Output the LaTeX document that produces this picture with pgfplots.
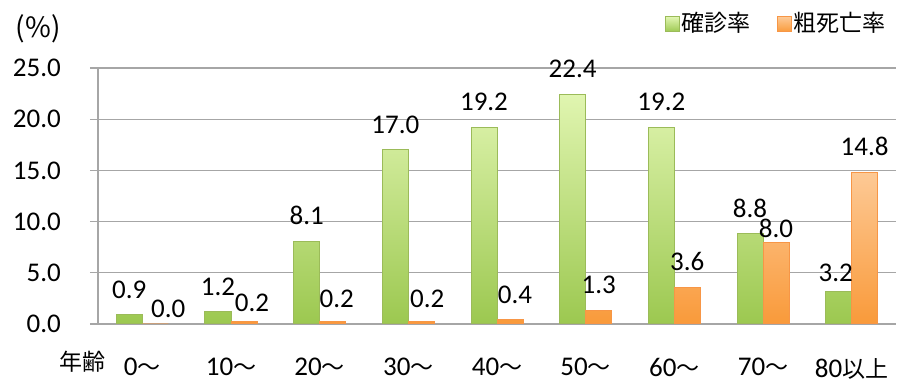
\documentclass[border=0pt]{standalone}
\usepackage{fontspec}
\setmainfont{Carlito}
\newfontfamily\jp{Noto Sans CJK JP}
\usepackage{pgfplots}
\usepackage{pgfplotstable}
\pgfplotsset{compat=1.18}
\definecolor{gtop}{HTML}{E0F5B0}
\definecolor{gbot}{HTML}{9CC850}
\definecolor{gline}{HTML}{9BBB59}
\definecolor{otop}{HTML}{FDC995}
\definecolor{obot}{HTML}{F99A3A}
\definecolor{oline}{HTML}{F79646}
\definecolor{axgrey}{HTML}{A6A6A6}
\newcommand\nf{\fontsize{27}{31}\selectfont}
\newcommand\jf{\jp\fontsize{23}{27}\selectfont}
\pgfplotstableread{
x y dx sh
0 0.9 0 16
1 1.2 0 16
2 8.1 0 16
3 17.0 0 16
4 19.2 0 16
5 22.4 0 16
6 19.2 0 16
7 8.8 0 16
8 3.2 -3 9
}\diag
\pgfplotstableread{
x y dx sh
0 0.0 13 6
1 0.2 8 10
2 0.2 4 14
3 0.2 6 14
4 0.4 5 16
5 1.3 0 16
6 3.6 0 16
7 8.0 0 4
8 14.8 0 16
}\death
\begin{document}
\nf
\begin{tikzpicture}
\begin{axis}[
  scale only axis,
  width=798pt, height=256pt,
  xmin=-0.5, xmax=8.5, ymin=0, ymax=25,
  ybar=0pt, bar width=26pt,
  axis lines*=left,
  axis line style={draw=axgrey, line width=1.2pt},
  /pgf/number format/assume math mode=true,
  ytick={0,5,...,25},
  yticklabel={\pgfmathprintnumber[fixed,fixed zerofill,precision=1]{\tick}},
  yticklabel style={font=\nf, xshift=-20pt},
  ymajorgrids,
  major grid style={draw=axgrey, line width=1.2pt},
  major tick length=8pt,
  tick align=outside,
  tick style={draw=axgrey, line width=1.2pt},
  xtick={0,...,8},
  xticklabels={{0{\jf ～}},{10{\jf ～}},{20{\jf ～}},{30{\jf ～}},{40{\jf ～}},{50{\jf ～}},{60{\jf ～}},{70{\jf ～}},{80{\jf 以上}}},
  xtick style={draw=none},
  xticklabel style={font=\nf, yshift=-17pt},
  extra x ticks={-0.5,0.5,...,8.5},
  extra x tick labels={},
  extra x tick style={tick style={draw=axgrey, line width=1.2pt}, major grid style={draw=none}},
  visualization depends on={\thisrow{dx}\as\mydx},
  visualization depends on={\thisrow{sh}\as\mysh},
  nodes near coords={\pgfmathprintnumber[fixed,fixed zerofill,precision=1]{\pgfplotspointmeta}},
  nodes near coords style={font=\nf, black, inner sep=0pt, anchor=south, xshift=\mydx pt, yshift=\mysh pt},
  legend style={at={(axis description cs:0.99,1.172)}, anchor=east, draw=none, fill=none,
    legend columns=2, font=\jf, inner sep=0pt,
    /tikz/every even column/.append style={column sep=24pt}},
  legend image code/.code={\draw[#1] (-2pt,-8pt) rectangle (12pt,7pt);},
  clip=false,
]
\addplot[draw=gline, line width=1pt, top color=gtop, bottom color=gbot] table[x=x,y=y] {\diag};
\addplot[draw=oline, line width=1pt, top color=otop, bottom color=obot] table[x=x,y=y] {\death};
\legend{確診率,粗死亡率}
\node[font=\jp\fontsize{28}{32}\selectfont] at (axis description cs:-0.075,1.152) {(\%)};
\node[font=\jf] at (axis description cs:-0.02,-0.148) {年齢};
\end{axis}
\useasboundingbox (-98pt,-64pt) rectangle (814pt,324pt);
\end{tikzpicture}
\end{document}
